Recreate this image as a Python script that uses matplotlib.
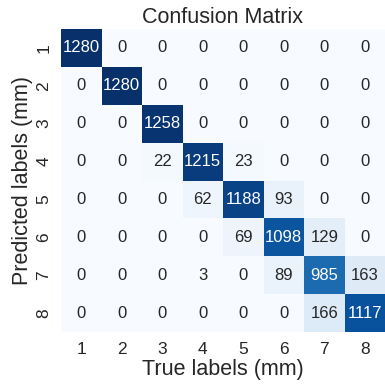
import numpy as np
import matplotlib
matplotlib.use("Agg")
import matplotlib.pyplot as plt
import seaborn as sns

classes = ["1", "2", "3", "4", "5", "6", "7", "8"]
row1 = [1280, 0, 0, 0, 0, 0, 0, 0]
row2 = [0, 1280, 0, 0, 0, 0, 0, 0]
row3 = [0, 0, 1258, 0, 0, 0, 0, 0]
row4 = [0, 0, 22, 1215, 23, 0, 0, 0]
row5 = [0, 0, 0, 62, 1188, 93, 0, 0]
row6 = [0, 0, 0, 0, 69, 1098, 129, 0]
row7 = [0, 0, 0, 3, 0, 89, 985, 163]
row8 = [0, 0, 0, 0, 0, 0, 166, 1117]

cm = np.array([row1, row2, row3, row4, row5, row6, row7, row8])

sns.set_theme(style="white")
plt.rcParams["font.family"] = ["Liberation Sans", "DejaVu Sans"]

fig = plt.figure(figsize=(3.85, 3.86), dpi=100)
ax = fig.add_axes([61 / 385, 1 - 332 / 386, 324 / 385, 303 / 386])

sns.heatmap(cm, annot=True, fmt="d", cmap="Blues", cbar=False,
            xticklabels=classes, yticklabels=classes, ax=ax,
            annot_kws={"fontsize": 12})

ax.set_title("Confusion Matrix", fontsize=15.5, color="#262626", pad=4)
ax.set_xlabel("True labels (mm)", fontsize=15.5, color="#262626", labelpad=2)
ax.set_ylabel("Predicted labels (mm)", fontsize=15.5, color="#262626", labelpad=2)
ax.tick_params(axis="both", labelsize=12.5, colors="#262626", length=0, pad=7)

fig.savefig("out.png", dpi=100)
